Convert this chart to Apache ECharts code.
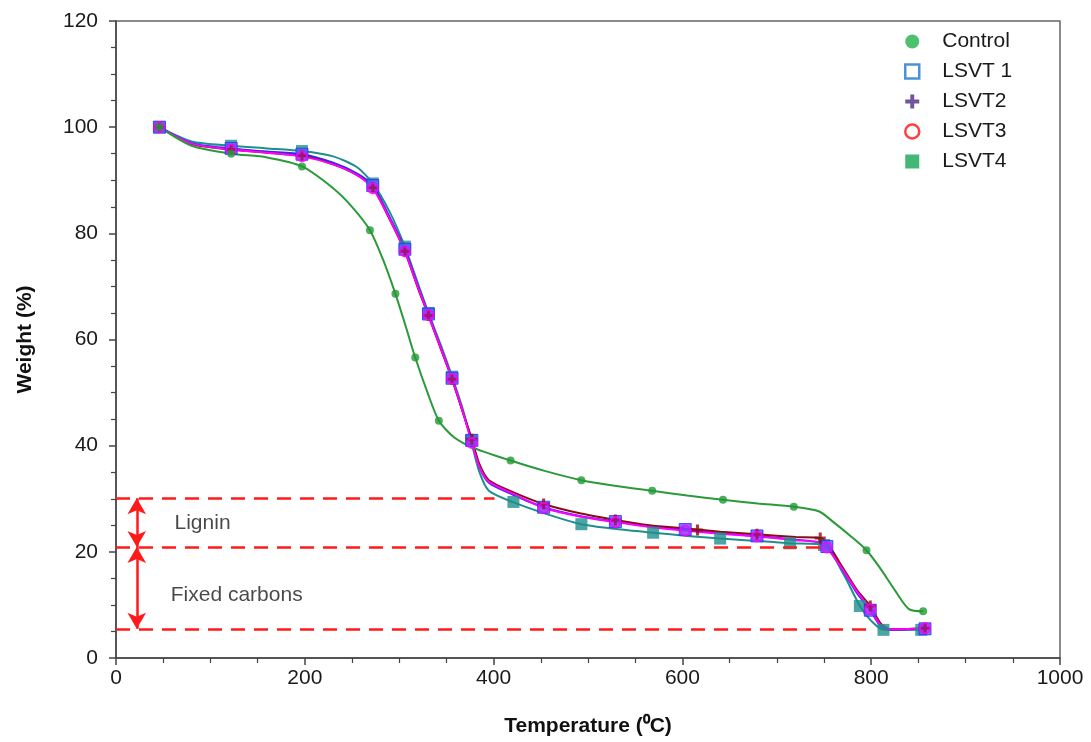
<!DOCTYPE html>
<html><head><meta charset="utf-8">
<script src="https://cdn.jsdelivr.net/npm/echarts@6/dist/echarts.min.js"></script>
<style>html,body{margin:0;padding:0;background:#fff}#c{width:1091px;height:742px}</style>
</head><body><div id="c"></div>
<script>
// ---- data (temperature °C, weight %) ----
const xTicks = [0, 200, 400, 600, 800, 1000];
const yTicks = [0, 20, 40, 60, 80, 100, 120];

const controlCurve = [[46,100],[80,96.5],[122,95],[160,94.3],[197,92.6],[230,88.5],[250,85],[269,80.6],[283,75],[296,68.6],[306,63],[317,56.6],[330,50],[342,44.7],[358,41.6],[380,39.5],[418,37.2],[455,35.2],[493,33.5],[530,32.4],[568,31.5],[605,30.6],[643,29.8],[680,29.1],[718,28.5],[745,27.6],[760,25.6],[778,23],[795,20.3],[810,16.8],[825,12.8],[840,9.2],[855,8.8]];
const controlMarks = [[46,100],[122,95],[197,92.6],[269,80.6],[296,68.6],[317,56.6],[342,44.7],[418,37.2],[493,33.5],[568,31.5],[643,29.8],[718,28.5],[795,20.3],[855,8.8]];

const lsvt1Curve = [[46,100],[80,97],[122,96],[160,95.4],[197,94.9],[230,93.3],[255,91.3],[272,89],[290,83],[306,77],[320,70],[331,64.8],[345,58],[356,52.7],[368,46],[377,41],[385,36],[395,33],[420,30.8],[453,28.4],[490,26.8],[529,25.7],[565,24.8],[603,24.2],[640,23.5],[679,23],[720,22.3],[745,21.8],[753,21],[770,16.5],[785,12.2],[799,9],[810,6],[820,5.3],[857,5.5]];
const lsvt1Marks = [[46,100],[122,96],[197,94.9],[272,89],[306,77],[331,64.8],[356,52.7],[377,41],[453,28.4],[529,25.7],[603,24.2],[679,23],[753,21],[799,9],[857,5.5]];

const lsvt2Curve = [[46,100],[80,96.8],[122,95.8],[160,95.2],[197,94.6],[230,93],[255,91],[272,88.6],[290,82.6],[306,76.6],[320,69.6],[331,64.5],[345,57.8],[356,52.5],[368,46],[377,41.2],[385,36.5],[395,33.5],[420,31.3],[453,29],[490,27.3],[529,26],[565,25],[603,24.4],[640,23.8],[679,23.3],[720,22.8],[746,22.6],[755,21.2],[770,17],[785,12.8],[799,9.8],[810,6.5],[820,5.4],[857,5.6]];
const lsvt2Marks = [[46,100],[122,95.8],[197,94.6],[272,88.6],[306,76.6],[331,64.5],[356,52.5],[377,41.2],[453,29],[529,26],[616,24.1],[679,23.3],[746,22.6],[799,9.8],[857,5.6]];

const lsvt3Curve = [[46,100],[80,96.9],[122,95.8],[160,95.2],[197,94.5],[230,93],[255,91],[272,88.5],[290,82.7],[306,76.6],[320,69.8],[331,64.6],[345,57.9],[356,52.6],[368,46],[377,40.5],[385,36],[395,33.2],[420,31],[453,28.3],[490,26.7],[529,25.6],[565,24.7],[603,24],[640,23.4],[679,22.9],[720,22.2],[745,21.8],[753,20.8],[770,16.6],[785,12.5],[799,9.2],[810,6.2],[820,5.4],[857,5.6]];
const lsvt3Marks = [[46,100],[122,95.8],[197,94.5],[272,88.5],[306,76.6],[331,64.6],[356,52.6],[377,40.5],[453,28.3],[529,25.6],[603,24],[679,22.9],[753,20.8],[799,9.2],[857,5.6]];

const lsvt4Curve = [[46,100],[80,97.3],[122,96.5],[160,96],[197,95.5],[230,94.5],[255,92.5],[272,89.4],[290,84],[306,77.5],[320,70.5],[331,65],[345,58.5],[356,53],[368,46.5],[376,41],[385,35],[395,31.5],[420,29.4],[453,27.3],[493,25.2],[530,24.3],[569,23.6],[605,23],[640,22.5],[693,21.9],[714,21.6],[750,21.3],[770,16],[788,9.8],[800,7],[813,5.3],[853,5.3]];
const lsvt4Marks = [[46,100],[122,96.5],[197,95.5],[272,89.4],[306,77.5],[331,65],[356,53],[376,41],[421,29.4],[493,25.2],[569,23.6],[640,22.5],[714,21.6],[750,21.3],[788,9.8],[813,5.3],[853,5.3]];

// reference levels (%) and annotation positions
const ligninTop = 30.1, fixedTop = 20.9, ashLevel = 5.5;
const refLines = [[0, ligninTop, 401], [0, fixedTop, 747], [0, ashLevel, 800]];
const arrowX = 22;
const notes = [["Lignin", 62, 25.4], ["Fixed carbons", 58, 11.8]];

const legendNames = ["Control", "LSVT 1", "LSVT2", "LSVT3", "LSVT4"];
// ---------------------------------------

const plusPath = 'path://M0,3.6L10,3.6L10,6.4L0,6.4Z M3.6,0L6.4,0L6.4,10L3.6,10Z';
const fontMain = "'Liberation Sans', Arial, sans-serif";

function curve(name, data, color, z) {
  return {type:'line', name:name + ' curve', data:data, smooth:0.25, symbol:'none',
    lineStyle:{color:color, width:2}, z:z, silent:true};
}
function marks(name, data, symbol, size, color, border, bw, z) {
  return {type:'scatter', name:name, data:data, symbol:symbol, symbolSize:size,
    itemStyle:{color:color, borderColor:border, borderWidth:bw}, z:z};
}

const series = [
  curve('LSVT4', lsvt4Curve, '#1f8f8c', 2),
  marks('LSVT4', lsvt4Marks, 'rect', 12, '#1f8f8c', '#1f8f8c', 0, 3),
  curve('LSVT1', lsvt1Curve, '#2a2aff', 2),
  marks('LSVT 1', lsvt1Marks, 'rect', 12, '#4c5cff', '#2a2aff', 1, 3),
  curve('LSVT2', lsvt2Curve, '#8b0a14', 2),
  marks('LSVT2', lsvt2Marks, plusPath, 11, '#8b0a14', '#8b0a14', 0, 3),
  curve('LSVT3', lsvt3Curve, '#ff00ff', 2),
  marks('LSVT3', lsvt3Marks, 'circle', 10, 'rgba(255,0,255,0.35)', '#ff00ff', 2, 4),
  curve('Control', controlCurve, '#2b9a3a', 2),
  marks('Control', controlMarks, 'circle', 8, '#1f9a33', '#1f9a33', 0, 4),
  {type:'line', name:'refs', data:[], silent:true, z:5,
    markLine:{silent:true, symbol:['none','none'], label:{show:false},
      lineStyle:{color:'#ff1a1a', width:2.5, type:[14,9]},
      data: refLines.map(r => [{coord:[r[0], r[1]]}, {coord:[r[2], r[1]]}])}},
  {type:'line', name:'arrows', data:[], silent:true, z:6,
    markLine:{silent:true, symbol:['arrow','arrow'], symbolSize:[14,16], label:{show:false},
      lineStyle:{color:'#ff1a1a', width:2.5, type:'solid'},
      data:[[{coord:[arrowX, ligninTop]},{coord:[arrowX, fixedTop]}],
            [{coord:[arrowX, fixedTop]},{coord:[arrowX, ashLevel]}]]}},
  {type:'scatter', name:'notes', silent:true, symbolSize:0,
    data: notes.map(n => ({name:n[0], value:[n[1], n[2]]})),
    label:{show:true, position:'right', distance:0, formatter:p => p.name,
      color:'#1a1a1a', fontSize:21, fontFamily:fontMain}}
];

const chart = echarts.init(document.getElementById('c'), null, {renderer:'canvas'});
chart.setOption({
  animation:false,
  backgroundColor:'#fff',
  grid:{left:116, top:21, right:31, bottom:84, show:true, borderColor:'#666', borderWidth:1.5},
  legend:{
    orient:'vertical', left:899, top:26, itemGap:9, itemWidth:14, itemHeight:14,
    textStyle:{fontSize:21, color:'#1a1a1a', fontFamily:fontMain, padding:[0,0,0,18]},
    data:[
      {name:'Control', icon:'circle', itemStyle:{color:'#22b14c', borderWidth:0}},
      {name:'LSVT 1', icon:'rect', itemStyle:{color:'#fff', borderColor:'#1f78c8', borderWidth:2.5}},
      {name:'LSVT2', icon:plusPath, itemStyle:{color:'#4b2a80', borderWidth:0}},
      {name:'LSVT3', icon:'circle', itemStyle:{color:'#fff', borderColor:'#ff1010', borderWidth:2.5}},
      {name:'LSVT4', icon:'rect', itemStyle:{color:'#12a650', borderWidth:0}}
    ]
  },
  xAxis:{
    type:'value', min:xTicks[0], max:xTicks[xTicks.length-1], interval:200,
    name:'Temperature (\u2070C)', nameLocation:'middle', nameGap:58,
    nameTextStyle:{fontSize:21, fontWeight:'bold', color:'#111', fontFamily:fontMain},
    axisLine:{show:true, lineStyle:{color:'#444', width:1.5}},
    axisTick:{show:true, inside:false, length:7, lineStyle:{color:'#444', width:1.5}},
    minorTick:{show:true, splitNumber:4, length:5, lineStyle:{color:'#444', width:1.2}},
    splitLine:{show:false},
    axisLabel:{fontSize:21, color:'#1a1a1a', margin:10, fontFamily:fontMain, formatter:v => String(v)}
  },
  yAxis:{
    type:'value', min:yTicks[0], max:yTicks[yTicks.length-1], interval:20,
    name:'Weight (%)', nameLocation:'middle', nameGap:80, nameRotate:90,
    nameTextStyle:{fontSize:21, fontWeight:'bold', color:'#111', fontFamily:fontMain},
    axisLine:{show:true, lineStyle:{color:'#444', width:1.5}},
    axisTick:{show:true, inside:false, length:7, lineStyle:{color:'#444', width:1.5}},
    minorTick:{show:true, splitNumber:4, length:5, lineStyle:{color:'#444', width:1.2}},
    splitLine:{show:false},
    axisLabel:{fontSize:21, color:'#1a1a1a', margin:18, fontFamily:fontMain, formatter:v => String(v)}
  },
  series:series
});
</script></body></html>
